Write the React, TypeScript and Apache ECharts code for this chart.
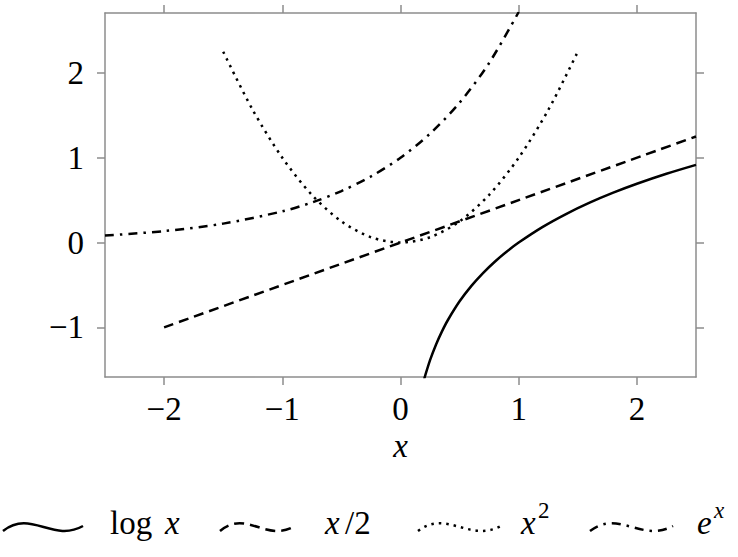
import React, { useEffect, useRef } from 'react';
import * as echarts from 'echarts';

// axis ticks
const xTicks = [-2, -1, 0, 1, 2];
const yTicks = [-1, 0, 1, 2];

// log x (solid)
const logX = [0.2, 0.25, 0.3, 0.35, 0.4, 0.5, 0.6, 0.7, 0.8, 0.9, 1.0, 1.2, 1.4, 1.6, 1.8, 2.0, 2.25, 2.5];
const logY = [-1.609, -1.386, -1.204, -1.050, -0.916, -0.693, -0.511, -0.357, -0.223, -0.105, 0, 0.182, 0.336, 0.470, 0.588, 0.693, 0.811, 0.916];

// x/2 (dashed)
const halfX = [-2, 2.5];
const halfY = [-1, 1.25];

// x^2 (dotted)
const sqX = [-1.5, -1.25, -1, -0.75, -0.5, -0.25, 0, 0.25, 0.5, 0.75, 1, 1.25, 1.5];
const sqY = [2.25, 1.5625, 1, 0.5625, 0.25, 0.0625, 0, 0.0625, 0.25, 0.5625, 1, 1.5625, 2.25];

// e^x (dash-dot)
const expX = [-2.5, -2, -1.5, -1, -0.75, -0.5, -0.25, 0, 0.25, 0.5, 0.75, 1];
const expY = [0.082, 0.135, 0.223, 0.368, 0.472, 0.607, 0.779, 1, 1.284, 1.649, 2.117, 2.718];

const FONT = 'Liberation Serif';
const AXIS_COLOR = '#8c8c8c';
const DASHED = [10, 6];
const DOTTED = [2.5, 5];
const DASHDOT = [9, 6, 2.5, 6];

const zip = (xs: number[], ys: number[]) => xs.map((x, i) => [x, ys[i]]);
const fmt = (v: number) => (v < 0 ? '\u2212' + Math.abs(v) : String(v));

const makeAxis = (position: string, min: number, max: number, ticks: number[], labels: boolean, margin: number) => ({
  type: 'value',
  position,
  min,
  max,
  axisLine: { show: true, onZero: false, lineStyle: { color: AXIS_COLOR, width: 1.5 } },
  axisTick: { show: true, length: 8, customValues: ticks, lineStyle: { color: AXIS_COLOR, width: 1.5 } },
  axisLabel: {
    show: labels,
    customValues: ticks,
    margin,
    formatter: (v: number) => fmt(v),
    color: '#000',
    fontFamily: FONT,
    fontSize: 33,
  },
  splitLine: { show: false },
});

// legend sample: a small wave like pgfplots' smooth legend image
const wave = (x: number, y: number, w: number, dash: number[] | null) => ({
  type: 'bezierCurve',
  shape: {
    x1: x, y1: y + 4,
    cpx1: x + w * 0.35, cpy1: y - 18,
    cpx2: x + w * 0.62, cpy2: y + 16,
    x2: x + w, y2: y - 1,
  },
  style: { stroke: '#000', lineWidth: 2.5, fill: null, lineDash: dash },
  silent: true,
});

const legendText = (x: number, y: number, text: string, italic = false, size = 33) => ({
  type: 'text',
  x,
  y,
  style: {
    text,
    fill: '#000',
    fontFamily: FONT,
    fontSize: size,
    fontStyle: italic ? 'italic' : 'normal',
    textAlign: 'left',
    verticalAlign: 'middle',
  },
  silent: true,
});

const App: React.FC = () => {
  const chartRef = useRef<HTMLDivElement>(null);

  useEffect(() => {
    if (!chartRef.current) return;
    const chart = echarts.init(chartRef.current, null, { renderer: 'svg' });

    const lineSeries = (name: string, data: number[][], dash: any) => ({
      name,
      type: 'line',
      data,
      showSymbol: false,
      symbol: 'none',
      smooth: 0.3,
      clip: true,
      silent: true,
      lineStyle: { color: '#000', width: 2.5, type: dash },
    });

    const option: any = {
      animation: false,
      backgroundColor: '#fff',
      textStyle: { fontFamily: FONT },
      grid: { left: 105, right: 42, top: 13, bottom: 180 },
      xAxis: [
        {
          ...makeAxis('bottom', -2.5, 2.5, xTicks, true, 15),
          name: 'x',
          nameLocation: 'middle',
          nameGap: 51,
          nameTextStyle: { fontFamily: FONT, fontSize: 33, fontStyle: 'italic', color: '#000' },
        },
        makeAxis('top', -2.5, 2.5, xTicks, false, 8),
      ],
      yAxis: [
        makeAxis('left', -1.585, 2.706, yTicks, true, 21),
        makeAxis('right', -1.585, 2.706, yTicks, false, 8),
      ],
      series: [
        lineSeries('log x', zip(logX, logY), 'solid'),
        lineSeries('x/2', zip(halfX, halfY), DASHED),
        lineSeries('x^2', zip(sqX, sqY), DOTTED),
        lineSeries('e^x', zip(expX, expY), DASHDOT),
      ],
      graphic: [
        wave(3, 527, 80, null),
        legendText(110, 523, 'log'),
        legendText(165, 523, 'x', true),
        wave(220, 527, 75, DASHED),
        legendText(325, 523, 'x', true),
        legendText(345, 523, '/2'),
        wave(418, 527, 83, DOTTED),
        legendText(521, 523, 'x', true),
        legendText(538, 510, '2', false, 23),
        wave(590, 527, 83, DASHDOT),
        legendText(697, 523, 'e', true),
        legendText(714, 510, 'x', true, 23),
      ],
    };

    chart.setOption(option);
    return () => {
      chart.dispose();
    };
  }, []);

  return (
    <div
      ref={chartRef}
      style={{ position: 'fixed', left: 0, top: 0, width: 738, height: 557, background: '#fff' }}
    />
  );
};

export default App;
